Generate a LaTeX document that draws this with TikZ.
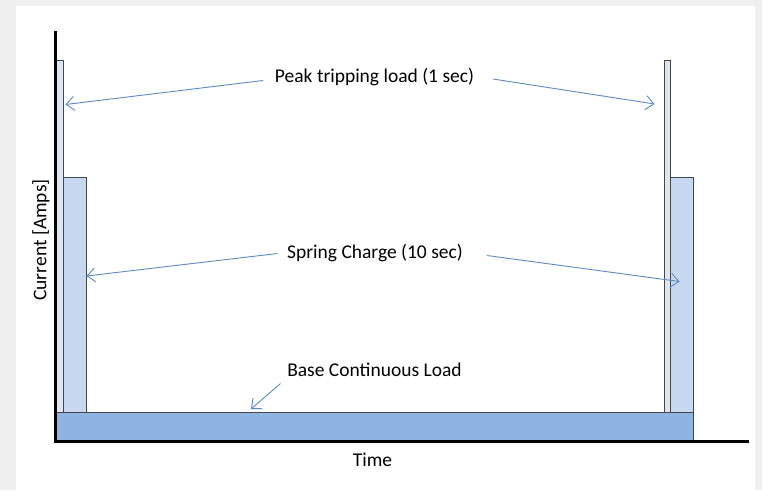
\documentclass[tikz,border=0pt]{standalone}
\usepackage{fontspec}
\setmainfont{Carlito}
\usetikzlibrary{arrows.meta}
\definecolor{bggray}{RGB}{240,240,240}
\definecolor{peakfill}{RGB}{220,230,242}
\definecolor{springfill}{RGB}{198,217,241}
\definecolor{basefill}{RGB}{142,180,227}
\definecolor{edgegray}{RGB}{70,70,70}
\definecolor{arrowblue}{RGB}{91,138,200}
\tikzset{
  bar/.style={draw=edgegray, line width=1pt},
  lbl/.style={font=\fontsize{19.5}{23}\selectfont, text=black, inner sep=0pt, anchor=center},
  callout/.style={draw=arrowblue, line width=0.9pt, -{Straight Barb[length=8pt,width=14pt,line width=0.9pt]}},
  axis/.style={draw=black, line width=2.8pt}
}
\begin{document}
\begin{tikzpicture}[x=1pt,y=-1pt]
\useasboundingbox (0,0) rectangle (762,490);
\fill[bggray] (0,0) rectangle (762,490);
\fill[white] (16,6) rectangle (755,490);
% bars
\draw[bar, fill=basefill] (56,412) rectangle (693,441);
\draw[bar, fill=peakfill] (56,60.5) rectangle (63.5,412);
\draw[bar, fill=springfill] (63.5,177.5) rectangle (86,412);
\draw[bar, fill=peakfill] (664,60.5) rectangle (670.3,412);
\draw[bar, fill=springfill] (670.3,177.5) rectangle (693,412);
% axes
\coordinate (ytop) at (55.5,31);
\coordinate (orig) at (55.5,441.8);
\coordinate (xend) at (748.5,441.8);
\draw[axis] (ytop) -- (55.5,443.2);
\draw[axis] (54.1,441.8) -- (xend);
% labels
\node[lbl] (peak) at (374.5,77.5) {Peak tripping load (1 sec)};
\node[lbl] (spring) at (375,253.5) {Spring Charge (10 sec)};
\node[lbl] (base) at (374.5,369.5) {Base Continuous Load};
\node[lbl] (time) at (372.5,460) {Time};
\node[lbl, rotate=90] (cur) at (41,240) {Current [Amps]};
% callout endpoints
\coordinate (pL) at (65.5,104.5);
\coordinate (pR) at (654.5,104);
\coordinate (sL) at (86.5,276);
\coordinate (sR) at (679.5,281.5);
\coordinate (bT) at (251,409);
\draw[callout] (263,80.5) -- (pL);
\draw[callout] (493,79) -- (pR);
\draw[callout] (277.5,253.5) -- (sL);
\draw[callout] (487,255.5) -- (sR);
\draw[callout] (280.5,383.5) -- (bT);
\end{tikzpicture}
\end{document}
